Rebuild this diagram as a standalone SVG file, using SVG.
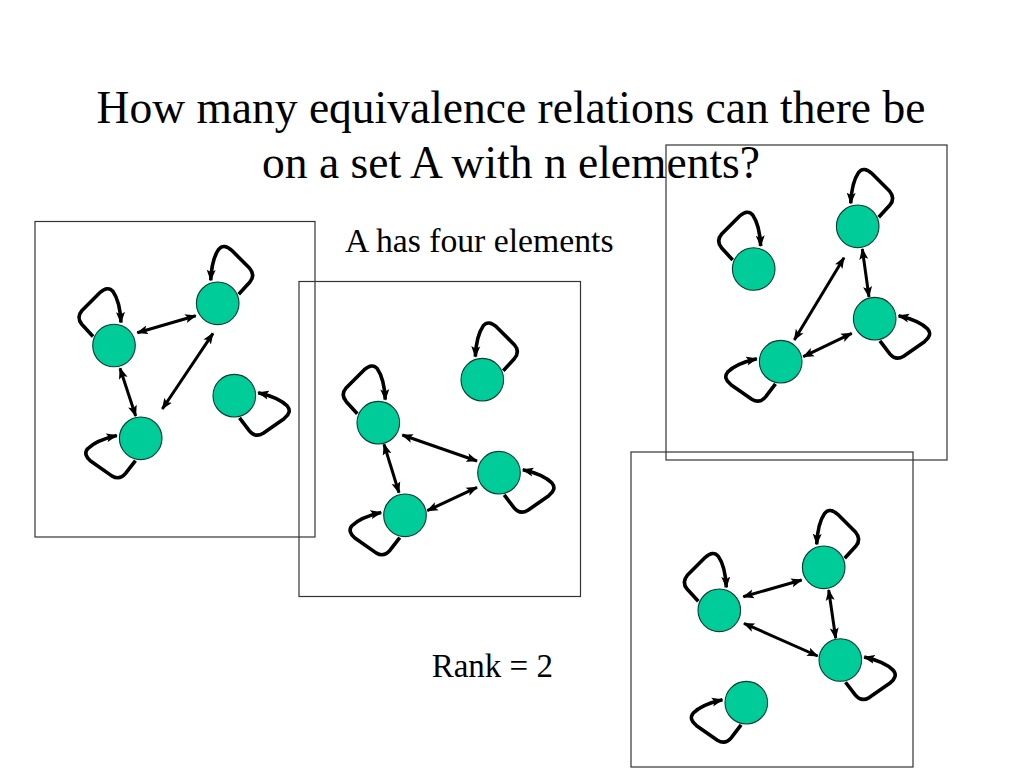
<svg xmlns="http://www.w3.org/2000/svg" xmlns:xlink="http://www.w3.org/1999/xlink" width="1024" height="768" viewBox="0 0 1024 768">
<style>
.t{font-family:"Liberation Serif","Times New Roman",serif;fill:#000}
.box{fill:none;stroke:#333;stroke-width:1.2}
.node{fill:#00CC99;stroke:#0a3d2e;stroke-width:1.1}
.edge{fill:none;stroke:#000;stroke-width:3;marker-start:url(#ah);marker-end:url(#ah)}
.loop{fill:none;stroke:#000;stroke-width:3.6;stroke-linejoin:round;marker-end:url(#ah)}
</style>
<defs>
<marker id="ah" markerUnits="userSpaceOnUse" markerWidth="12" markerHeight="10" refX="10.5" refY="4.5" orient="auto-start-reverse" viewBox="0 0 12 9">
<path d="M0,0 L11.5,4.5 L0,9 L2.5,4.5 z" fill="#000"/>
</marker>
<path id="lp" class="loop" d="M -21,-9 L -32,-21 Q -38,-28 -32,-35 L -14,-53 Q -6,-60 -1,-54 Q 6,-44 7,-23"/>
</defs>
<rect width="1024" height="768" fill="#fff"/>
<g id="title">
<text class="t" x="511" y="123" font-size="45.5" text-anchor="middle">How many equivalence relations can there be</text>
<text class="t" x="511" y="178" font-size="45.5" text-anchor="middle">on a set A with n elements?</text>
</g>
<text id="label-four" class="t" x="345" y="251.7" font-size="33.7">A has four elements</text>
<text id="label-rank" class="t" x="431.7" y="676.7" font-size="33">Rank = 2</text>
<g id="boxes">
<rect id="box1" class="box" x="35" y="221.5" width="280" height="315.5"/>
<rect id="box2" class="box" x="299" y="281.5" width="281.5" height="315"/>
<rect id="box3" class="box" x="666" y="145" width="281" height="315"/>
<rect id="box4" class="box" x="631" y="452" width="282" height="315"/>
</g>
<g id="connectors">
<use xlink:href="#lp" transform="translate(114,345.5)"/>
<use xlink:href="#lp" transform="translate(217.7,303.3) scale(-1,1)"/>
<use xlink:href="#lp" transform="translate(140.7,438.3) rotate(-100)"/>
<use xlink:href="#lp" transform="translate(234.3,395.7) rotate(100) scale(-1,1)"/>
<use xlink:href="#lp" transform="translate(378.3,422.7)"/>
<use xlink:href="#lp" transform="translate(482.3,379.7) scale(-1,1)"/>
<use xlink:href="#lp" transform="translate(499,472.7) rotate(100) scale(-1,1)"/>
<use xlink:href="#lp" transform="translate(405,515.3) rotate(-100)"/>
<use xlink:href="#lp" transform="translate(753.7,269)"/>
<use xlink:href="#lp" transform="translate(857.7,226.3) scale(-1,1)"/>
<use xlink:href="#lp" transform="translate(874.7,318.7) rotate(100) scale(-1,1)"/>
<use xlink:href="#lp" transform="translate(780.7,361.7) rotate(-100)"/>
<use xlink:href="#lp" transform="translate(719.3,610.3)"/>
<use xlink:href="#lp" transform="translate(823.7,567.3) scale(-1,1)"/>
<use xlink:href="#lp" transform="translate(840.3,660) rotate(100) scale(-1,1)"/>
<use xlink:href="#lp" transform="translate(746.3,702.7) rotate(-100)"/>
<path class="edge" d="M137.3,332.7 L195.7,315.7"/>
<path class="edge" d="M120,368.3 L135.7,416"/>
<path class="edge" d="M213,333.3 L162.3,409"/>
<path class="edge" d="M402.3,435 L477,461"/>
<path class="edge" d="M384,444.3 L399,492.7"/>
<path class="edge" d="M427.3,510.7 L477,487.3"/>
<path class="edge" d="M862.3,249 L869,297"/>
<path class="edge" d="M844,257.7 L794.3,340"/>
<path class="edge" d="M803.3,356.7 L851.7,333.3"/>
<path class="edge" d="M743.3,596.7 L801.7,580"/>
<path class="edge" d="M744,623.3 L817.7,656"/>
<path class="edge" d="M828.7,590 L835.7,638.3"/>
</g>
<g id="n1a"><circle class="node" cx="114" cy="345.5" r="21.3"/></g>
<g id="n1b"><circle class="node" cx="217.7" cy="303.3" r="21.3"/></g>
<g id="n1c"><circle class="node" cx="140.7" cy="438.3" r="21.3"/></g>
<g id="n1d"><circle class="node" cx="234.3" cy="395.7" r="21.3"/></g>
<g id="n2a"><circle class="node" cx="378.3" cy="422.7" r="21.3"/></g>
<g id="n2b"><circle class="node" cx="482.3" cy="379.7" r="21.3"/></g>
<g id="n2c"><circle class="node" cx="499" cy="472.7" r="21.3"/></g>
<g id="n2d"><circle class="node" cx="405" cy="515.3" r="21.3"/></g>
<g id="n3a"><circle class="node" cx="753.7" cy="269" r="21.3"/></g>
<g id="n3b"><circle class="node" cx="857.7" cy="226.3" r="21.3"/></g>
<g id="n3c"><circle class="node" cx="874.7" cy="318.7" r="21.3"/></g>
<g id="n3d"><circle class="node" cx="780.7" cy="361.7" r="21.3"/></g>
<g id="n4a"><circle class="node" cx="719.3" cy="610.3" r="21.3"/></g>
<g id="n4b"><circle class="node" cx="823.7" cy="567.3" r="21.3"/></g>
<g id="n4c"><circle class="node" cx="840.3" cy="660" r="21.3"/></g>
<g id="n4d"><circle class="node" cx="746.3" cy="702.7" r="21.3"/></g>
</svg>
